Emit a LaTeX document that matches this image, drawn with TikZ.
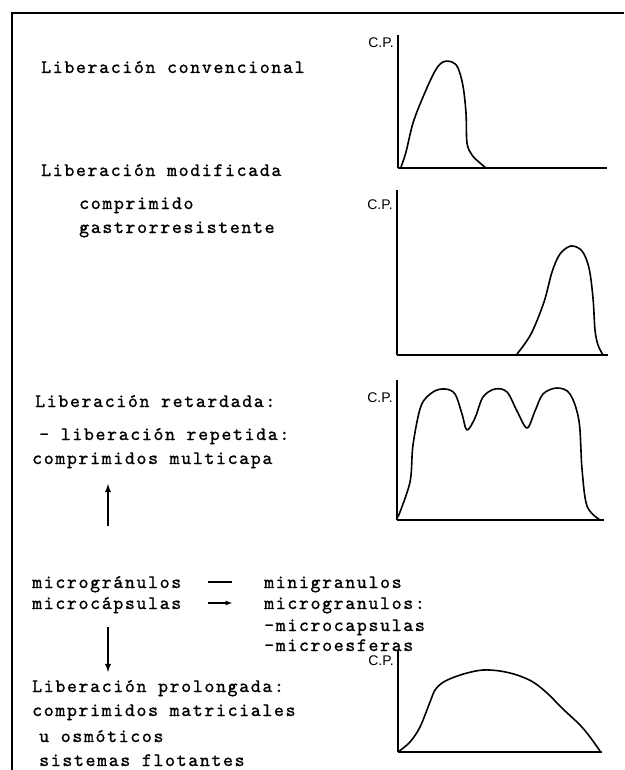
\documentclass[tikz,border=0pt]{standalone}
\usepackage{fontspec}
\usepackage{tikz}
\usetikzlibrary{arrows}
\newfontfamily\plainsans{Liberation Sans}
\newfontfamily\typewriter{lmmono10-regular}[Extension=.otf, LetterSpace=8.5, FakeBold=1]
\newcommand{\drawaxes}[6]{
  \def \ox {#1}
  \def \oy {#2}
  \def \gw {#3}
  \def \gh {#4}
  \def \cpy {#5}
  \def \gname {#6}
  % Vertical axis, from the top down to the origin
  \draw[axis] (\ox,\oy-\gh) -- (\ox,\oy);
  % Horizontal axis
  \draw[axis] (\ox,\oy) -- (\ox+\gw,\oy);
  % Label the vertical axis
  \node[cplabel] (\gname) at (\ox-4,\cpy) {C.P.};
}

\begin{document}
\begin{tikzpicture}[x=1pt,y=-1pt,
    txt/.style={font=\typewriter\fontsize{19}{21}\selectfont, anchor=west,
      inner sep=0pt, text height=11pt, text depth=1pt},
    cplabel/.style={font=\plainsans\fontsize{14}{16}\selectfont, anchor=east, inner sep=0pt},
    axis/.style={line width=1.3pt},
    curve/.style={line width=1.6pt, line join=round},
    frame/.style={line width=1.5pt}]
    \useasboundingbox (0,0) rectangle (624,770);
    % Frame
    \draw[frame] (624,13) -- (12,13) -- (12,770);
    % Left column of texts
    \node[txt] (conv) at (41,68) {Liberación convencional};
    \node[txt] (modif) at (41,171) {Liberación modificada};
    \node[txt] (comp) at (79,204) {comprimido};
    \node[txt] (gastro) at (79,228) {gastrorresistente};
    \node[txt] (retard) at (35,402) {Liberación retardada:};
    \node[txt] (repet) at (39,435) {- liberación repetida:};
    \node[txt] (multi) at (32,459) {comprimidos multicapa};
    \node[txt] (mgran) at (32,583) {microgránulos};
    \node[txt] (mini) at (264,583) {minigranulos};
    \node[txt] (mcaps) at (32,604) {microcápsulas};
    \node[txt] (mgran2) at (264,604) {microgranulos:};
    \node[txt] (mcaps2) at (264,626) {-microcapsulas};
    \node[txt] (mesf) at (264,646) {-microesferas};
    \node[txt] (prolong) at (32,687) {Liberación prolongada:};
    \node[txt] (matric) at (32,711) {comprimidos matriciales};
    \node[txt] (osmot) at (39,737) {u osmóticos};
    \node[txt] (flot) at (39,761) {sistemas flotantes};
    % Links between the columns
    \draw[line width=1.4pt, shorten <=27pt, shorten >=32pt] ([yshift=1pt]mgran.east) -- ([yshift=1pt]mini.west);
    \draw[-latex, line width=1.2pt, shorten <=27pt, shorten >=32pt] ([yshift=1pt]mcaps.east) -- ([yshift=1pt]mgran2.west);
    \coordinate (up-s) at (108,526);
    \coordinate (up-e) at (108,484);
    \draw[-latex, line width=1.8pt] (up-s) -- (up-e);
    \coordinate (dn-s) at (108,627);
    \coordinate (dn-e) at (108,672);
    \draw[-latex, line width=1.8pt] (dn-s) -- (dn-e);
   %\drawaxes{ x}{  y}{  w}{  h}{cp y}{name}
    \drawaxes{398}{168}{209}{133}{43}{cp1}
    \drawaxes{397}{355}{211}{165}{205}{cp2}
    \drawaxes{397}{520}{207}{140}{398}{cp3}
    \drawaxes{398}{752}{204}{102}{661}{cp4}
    % Conventional release
    \draw[curve] plot[smooth, tension=0.55] coordinates {(401,167) (406,152) (413,123)
      (423,97) (435,71) (443,62) (452,62) (458,68) (463,86) (466,113) (467,143)
      (472,155) (480,163) (486,168)};
    % Gastro-resistant release
    \draw[curve] plot[smooth, tension=0.55] coordinates {(517,354) (531,334) (544,302)
      (552,272) (560,254) (571,246) (582,251) (589,268) (593,298) (595,330)
      (598,345) (603,355)};
    % Repeated release
    \draw[curve] plot[smooth, tension=0.55] coordinates {(398,517) (410,482) (413,445)
      (421,406) (433,392) (445,389) (455,394) (462,414) (467,430) (475,418)
      (483,397) (495,389) (507,392) (517,411) (527,428) (535,411) (543,394)
      (557,388) (570,394) (579,421) (582,469) (587,506) (600,520)};
    % Prolonged release
    \draw[curve] plot[smooth, tension=0.55] coordinates {(398,752) (410,742) (420,727)
      (430,702) (435,690) (442,683) (452,678) (467,673) (483,670) (500,671)
      (517,675) (533,682) (547,693) (563,709) (580,725) (590,737) (600,751)};
\end{tikzpicture}
\end{document}
